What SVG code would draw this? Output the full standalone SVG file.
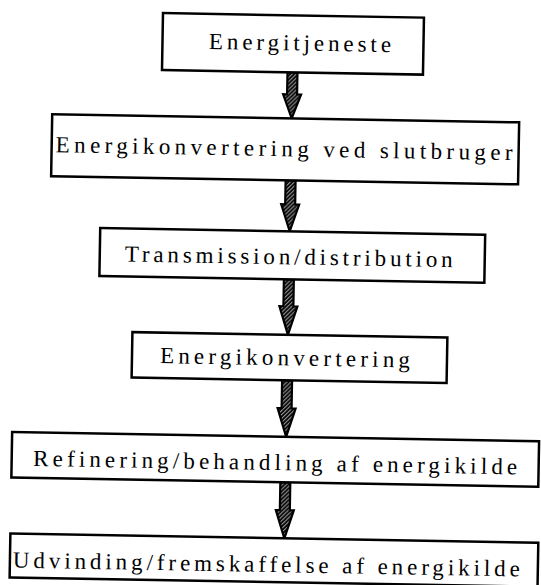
<svg xmlns="http://www.w3.org/2000/svg" width="541" height="585" viewBox="0 0 541 585">
<defs>
<pattern id="hatch" patternUnits="userSpaceOnUse" width="4" height="4">
<rect width="4" height="4" fill="#fff"/>
<path d="M-1,5 L5,-1 M-1,1 L1,-1 M3,5 L5,3" stroke="#000" stroke-width="2.2"/>
</pattern>
</defs>
<style>
.box{fill:#fff;stroke:#000;stroke-width:2.5}
.lbl{font-family:"Liberation Serif",serif;font-size:23px;fill:#000}
.arr{fill:url(#hatch);stroke:#000;stroke-width:2.2;stroke-linejoin:miter}
</style>
<rect width="541" height="585" fill="#fff"/>
<g transform="rotate(1 270 300)">
<g id="connectors">
<path class="arr" d="M283.5,72 V94 H279.5 L288.5,118 L297.5,94 H293.5 V72 Z"/>
<path class="arr" d="M283.5,180 V204 H279.5 L288.5,231 L297.5,204 H293.5 V180 Z"/>
<path class="arr" d="M283.5,279 V306 H279.5 L288.5,334.5 L297.5,306 H293.5 V279 Z"/>
<path class="arr" d="M283.5,380 V408 H279.5 L288.5,436.5 L297.5,408 H293.5 V380 Z"/>
<path class="arr" d="M283.5,482 V510 H279.5 L288.5,538 L297.5,510 H293.5 V482 Z"/>
</g>
<g id="n1">
<rect class="box" x="158" y="15" width="261" height="57"/>
<text class="lbl" x="204.5" y="50" textLength="182" lengthAdjust="spacing">Energitjeneste</text>
</g>
<g id="n2">
<rect class="box" x="49" y="118" width="467" height="62"/>
<text class="lbl" x="53" y="156" textLength="457" lengthAdjust="spacing">Energikonvertering ved slutbruger</text>
</g>
<g id="n3">
<rect class="box" x="99" y="231" width="385" height="48"/>
<text class="lbl" x="124" y="264" textLength="328" lengthAdjust="spacing">Transmission/distribution</text>
</g>
<g id="n4">
<rect class="box" x="133" y="334.5" width="315" height="45.5"/>
<text class="lbl" x="161" y="365" textLength="250" lengthAdjust="spacing">Energikonvertering</text>
</g>
<g id="n5">
<rect class="box" x="14.5" y="436.5" width="527" height="45.5"/>
<text class="lbl" x="36" y="470" textLength="484" lengthAdjust="spacing">Refinering/behandling af energikilde</text>
</g>
<g id="n6">
<rect class="box" x="14.5" y="538" width="528" height="44"/>
<text class="lbl" x="17.5" y="572" textLength="507" lengthAdjust="spacing">Udvinding/fremskaffelse af energikilde</text>
</g>
</g>
</svg>
